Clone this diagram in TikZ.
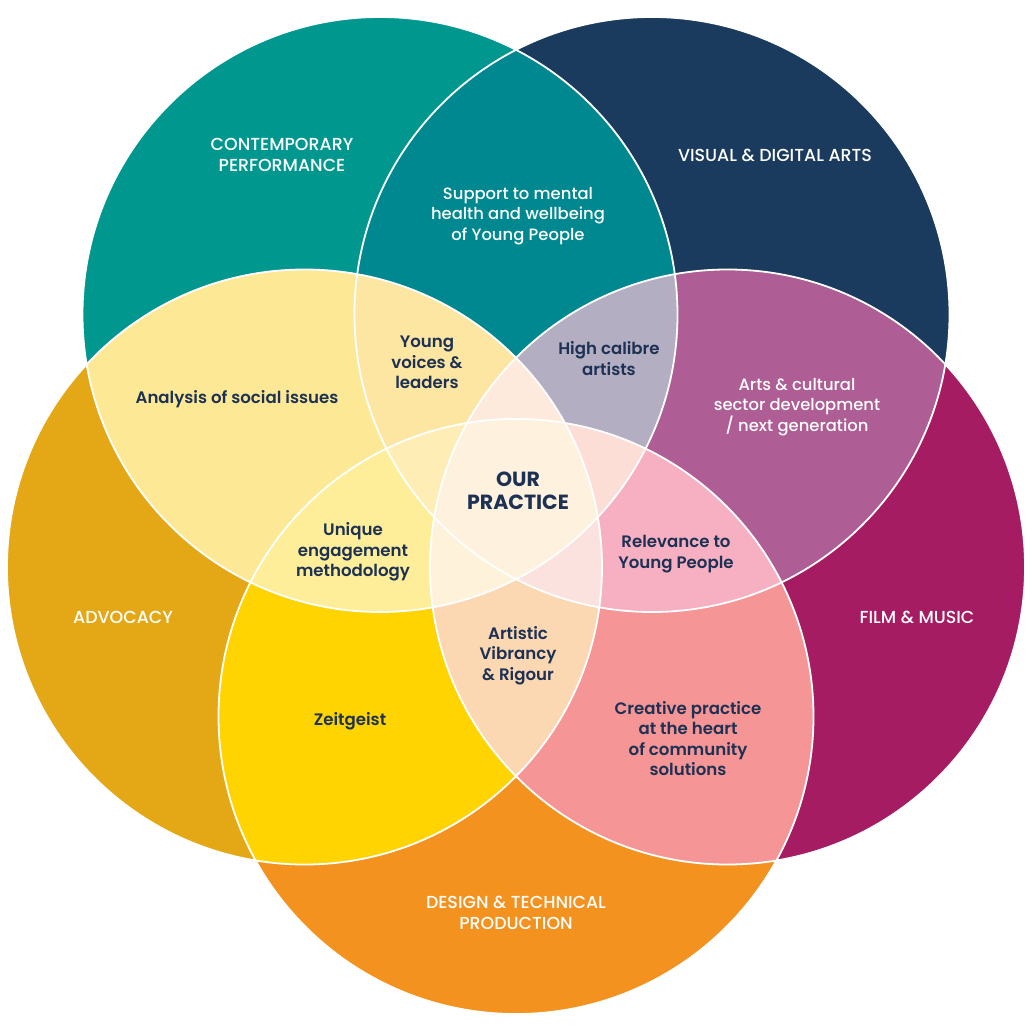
\documentclass[tikz,border=0pt]{standalone}
\usepackage{fontspec}
\setmainfont{Poppins}
\newfontfamily\medfont{Poppins Medium}
\newfontfamily\semifont{Poppins SemiBold}
\definecolor{cT}{HTML}{00978F}
\definecolor{cN}{HTML}{1A3A5E}
\definecolor{cM}{HTML}{A51C63}
\definecolor{cO}{HTML}{F3921E}
\definecolor{cA}{HTML}{E4A817}
\definecolor{cTN}{HTML}{008891}
\definecolor{cNM}{HTML}{AE5D95}
\definecolor{cMO}{HTML}{F59595}
\definecolor{cOA}{HTML}{FFD400}
\definecolor{cAT}{HTML}{FDE995}
\definecolor{cTNM}{HTML}{B3AEC2}
\definecolor{cNMO}{HTML}{F6B0C2}
\definecolor{cMOA}{HTML}{FBD7B2}
\definecolor{cOAT}{HTML}{FEEE99}
\definecolor{cATN}{HTML}{FDE5A2}
\definecolor{cTNMO}{HTML}{FCDED6}
\definecolor{cNMOA}{HTML}{FCE2DE}
\definecolor{cMOAT}{HTML}{FEF3DA}
\definecolor{cOATN}{HTML}{FEEEB6}
\definecolor{cATNM}{HTML}{FEEADC}
\definecolor{cAll}{HTML}{FEF2DF}
\definecolor{txt}{HTML}{1C3153}
\def\pT{(380,314.5) circle (297.5pt)}
\def\pN{(652,314.5) circle (297.5pt)}
\def\pM{(727.5,567) circle (297.5pt)}
\def\pO{(516,716.5) circle (297.5pt)}
\def\pA{(304.5,567) circle (297.5pt)}
\tikzset{
  dk/.style={text=txt, font=\semifont\fontsize{16.6}{20.5}\selectfont, align=center, inner sep=0pt},
  wt/.style={text=white, font=\medfont\fontsize{16.4}{20.5}\selectfont, align=center, inner sep=0pt},
  caplabel/.style={text=white, font=\medfont\fontsize{17.4}{20.5}\selectfont, align=center, inner sep=0pt},
  ring/.style={draw=white, line width=1.8pt}
}
\begin{document}
\begin{tikzpicture}[x=1pt,y=-1pt]
\useasboundingbox (0,0) rectangle (1032,1032);
% single circles
\fill[cT] \pT; \fill[cN] \pN; \fill[cM] \pM; \fill[cO] \pO; \fill[cA] \pA;
% pairs
\begin{scope}\clip \pT; \fill[cTN] \pN; \end{scope}
\begin{scope}\clip \pN; \fill[cNM] \pM; \end{scope}
\begin{scope}\clip \pM; \fill[cMO] \pO; \end{scope}
\begin{scope}\clip \pO; \fill[cOA] \pA; \end{scope}
\begin{scope}\clip \pA; \fill[cAT] \pT; \end{scope}
% triples
\begin{scope}\clip \pT; \clip \pN; \fill[cTNM] \pM; \end{scope}
\begin{scope}\clip \pN; \clip \pM; \fill[cNMO] \pO; \end{scope}
\begin{scope}\clip \pM; \clip \pO; \fill[cMOA] \pA; \end{scope}
\begin{scope}\clip \pO; \clip \pA; \fill[cOAT] \pT; \end{scope}
\begin{scope}\clip \pA; \clip \pT; \fill[cATN] \pN; \end{scope}
% quadruples
\begin{scope}\clip \pT; \clip \pN; \clip \pM; \fill[cTNMO] \pO; \end{scope}
\begin{scope}\clip \pN; \clip \pM; \clip \pO; \fill[cNMOA] \pA; \end{scope}
\begin{scope}\clip \pM; \clip \pO; \clip \pA; \fill[cMOAT] \pT; \end{scope}
\begin{scope}\clip \pO; \clip \pA; \clip \pT; \fill[cOATN] \pN; \end{scope}
\begin{scope}\clip \pA; \clip \pT; \clip \pN; \fill[cATNM] \pM; \end{scope}
% all five
\begin{scope}\clip \pT; \clip \pN; \clip \pM; \clip \pO; \fill[cAll] \pA; \end{scope}
% white outlines
\draw[ring] \pT; \draw[ring] \pN; \draw[ring] \pM; \draw[ring] \pO; \draw[ring] \pA;
% labels
\node[caplabel] (perf) at (282,155) {CONTEMPORARY\\PERFORMANCE};
\node[caplabel] (vis) at (775,155) {VISUAL \& DIGITAL ARTS};
\node[caplabel] (adv) at (123,617) {ADVOCACY};
\node[caplabel] (film) at (917,617) {FILM \& MUSIC};
\node[caplabel] (des) at (516,913) {DESIGN \& TECHNICAL\\PRODUCTION};
\node[wt] (ment) at (518,216) {Support to mental\\health and wellbeing\\of Young People};
\node[wt] (arts) at (797,407) {Arts \& cultural\\sector development\\/ next generation};
\node[dk] (young) at (427,362.5) {Young\\voices \&\\leaders};
\node[dk] (cal) at (609,358.5) {High calibre\\artists};
\node[dk] (soc) at (237,399.5) {Analysis of social issues};
\node[dk] (uniq) at (353,552) {Unique\\engagement\\methodology};
\node[dk] (rel) at (676,554) {Relevance to\\Young People};
\node[dk] (vib) at (518,655.5) {Artistic\\Vibrancy\\\& Rigour};
\node[dk] (zeit) at (350,721.5) {Zeitgeist};
\node[dk] (crea) at (688,738.5) {Creative practice\\at the heart\\of community\\solutions};
\node[text=txt, font=\bfseries\fontsize{20.5}{23.5}\selectfont, align=center, inner sep=0pt] (core) at (518,490.5) {OUR\\PRACTICE};
\end{tikzpicture}
\end{document}
